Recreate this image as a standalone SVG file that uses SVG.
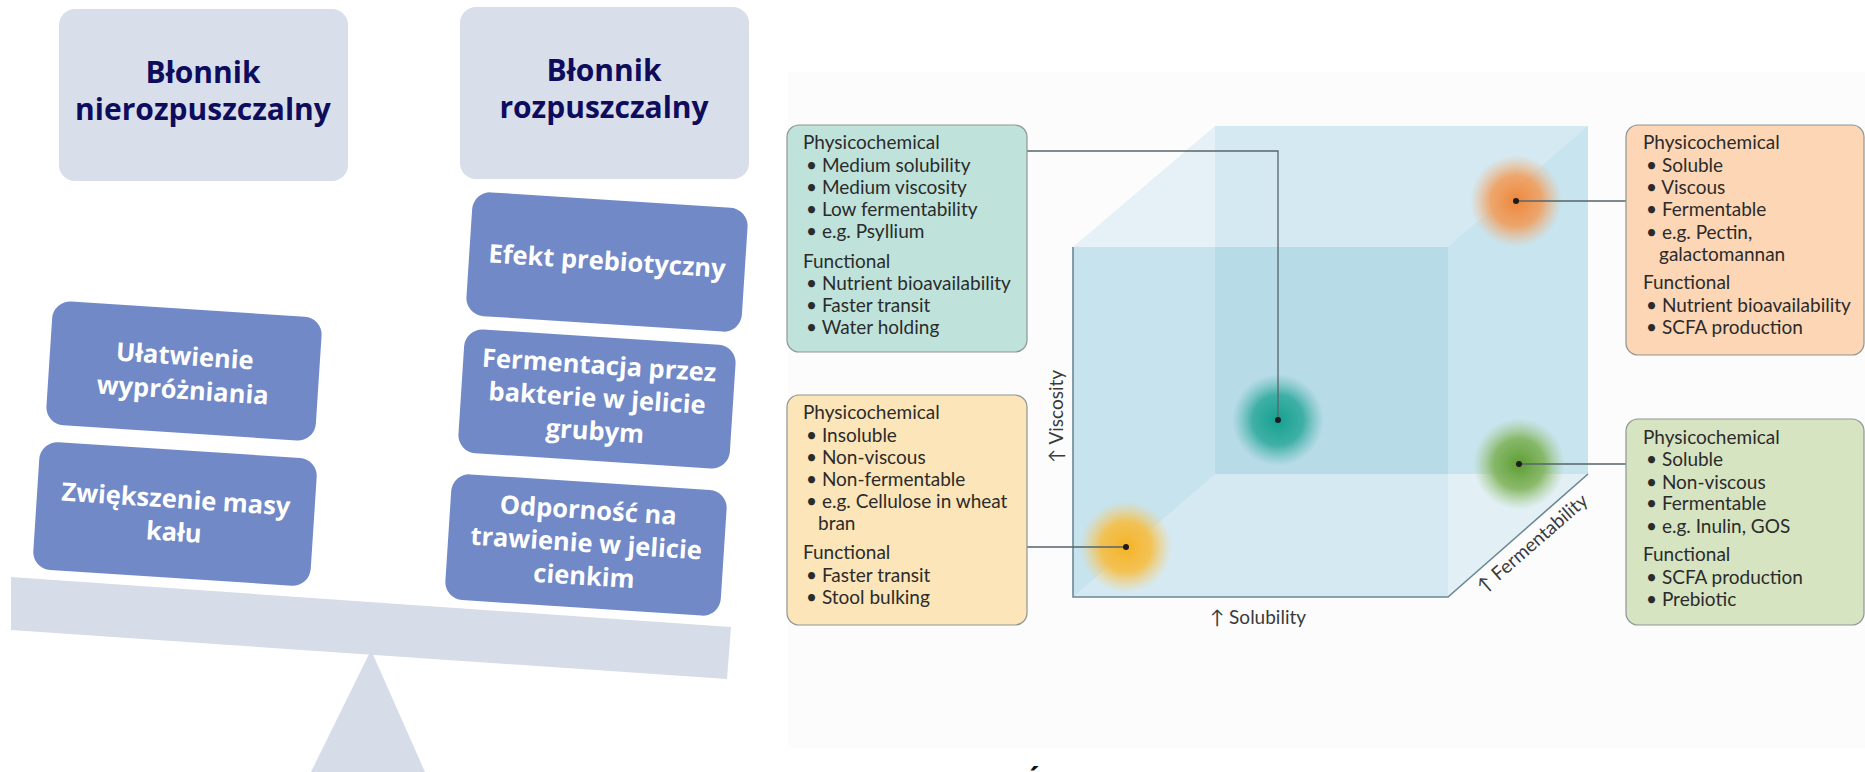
<svg xmlns="http://www.w3.org/2000/svg" width="1865" height="772" viewBox="0 0 1865 772">
  <defs>
    <style>
      .head { fill: #D9DEEB; }
      .title { font-family: "Open Sans", "Noto Sans", sans-serif; font-weight: 700; font-size: 30px; fill: #0E0C5C; text-anchor: middle; }
      .blue rect { fill: #7189C7; }
      .blue text { font-family: "Open Sans", "Noto Sans", sans-serif; font-weight: 700; font-size: 25.5px; fill: #FFFFFF; text-anchor: middle; }
      .scale { fill: #D7DCE9; }
      .card rect { stroke: #8E9694; stroke-width: 1.2; }
      .card text { font-family: Lato, "Noto Sans", sans-serif; font-size: 19px; fill: #2B2B2B; }
      .axis { stroke: #6B8795; stroke-width: 1.6; fill: none; }
      .axislabel { font-family: Lato, "Noto Sans", sans-serif; font-size: 19px; fill: #3A3A3A; }
      .link { stroke: #55656B; stroke-width: 1.3; fill: none; }
      .dot { fill: #1C1C1C; }
    </style>
    <radialGradient id="gTeal">
      <stop offset="0" stop-color="#13A08F" stop-opacity="1"/>
      <stop offset="0.55" stop-color="#2AA89A" stop-opacity="0.85"/>
      <stop offset="1" stop-color="#4DB5AA" stop-opacity="0"/>
    </radialGradient>
    <radialGradient id="gOrange">
      <stop offset="0" stop-color="#EE873A" stop-opacity="1"/>
      <stop offset="0.55" stop-color="#F29A55" stop-opacity="0.85"/>
      <stop offset="1" stop-color="#F5AE75" stop-opacity="0"/>
    </radialGradient>
    <radialGradient id="gGreen">
      <stop offset="0" stop-color="#5E9E33" stop-opacity="1"/>
      <stop offset="0.55" stop-color="#7BB052" stop-opacity="0.85"/>
      <stop offset="1" stop-color="#9CC47A" stop-opacity="0"/>
    </radialGradient>
    <radialGradient id="gYellow">
      <stop offset="0" stop-color="#F5B326" stop-opacity="1"/>
      <stop offset="0.55" stop-color="#F7BD40" stop-opacity="0.88"/>
      <stop offset="1" stop-color="#F9CC66" stop-opacity="0"/>
    </radialGradient>
  </defs>

  <rect width="1865" height="772" fill="#FFFFFF"/>

  <!-- Balance scale: fibre types and their effects -->
  <g id="head-insoluble">
    <rect class="head" x="59" y="9" width="289" height="172" rx="16"/>
    <text class="title" x="203" y="83">Błonnik</text>
    <text class="title" x="203" y="120">nierozpuszczalny</text>
  </g>
  <g id="head-soluble">
    <rect class="head" x="460" y="7" width="289" height="172" rx="16"/>
    <text class="title" x="604" y="81">Błonnik</text>
    <text class="title" x="604" y="118">rozpuszczalny</text>
  </g>

  <g id="pivot">
    <polygon class="scale" points="371,650 425,772 311,772"/>
  </g>
  <g id="beam">
    <polygon class="scale" points="11,577 731,627 727,679 11,630"/>
  </g>

  <g id="effect-defecation" class="blue" transform="translate(184,371) rotate(3.7)">
    <rect x="-135" y="-62" width="270" height="124" rx="18"/>
    <text x="0" y="-6">Ułatwienie</text>
    <text x="0" y="28">wypróżniania</text>
  </g>
  <g id="effect-stool-mass" class="blue" transform="translate(175,514) rotate(3.7)">
    <rect x="-139" y="-64" width="278" height="128" rx="18"/>
    <text x="0" y="-6">Zwiększenie masy</text>
    <text x="0" y="27">kału</text>
  </g>
  <g id="effect-prebiotic" class="blue" transform="translate(607,262) rotate(3.7)">
    <rect x="-138" y="-62" width="276" height="124" rx="18"/>
    <text x="0" y="8">Efekt prebiotyczny</text>
  </g>
  <g id="effect-fermentation" class="blue" transform="translate(597,399) rotate(3.7)">
    <rect x="-136" y="-62" width="272" height="124" rx="18"/>
    <text x="0" y="-25">Fermentacja przez</text>
    <text x="0" y="8">bakterie w jelicie</text>
    <text x="0" y="41">grubym</text>
  </g>
  <g id="effect-digestion" class="blue" transform="translate(586,545) rotate(3.7)">
    <rect x="-138" y="-63" width="276" height="126" rx="18"/>
    <text x="0" y="-26">Odporność na</text>
    <text x="0" y="7">trawienie w jelicie</text>
    <text x="0" y="40">cienkim</text>
  </g>

  <!-- Property cube -->
  <rect x="788" y="72" width="1077" height="676" fill="#FCFCFC"/>

  <g id="cube">
    <rect x="1215" y="126" width="373" height="348" fill="#D4E9F2"/>
    <polygon points="1073,247 1215,126 1215,247" fill="#E5F1F7"/>
    <polygon points="1448,247 1588,126 1588,474 1448,597" fill="#C8E4EF"/>
    <rect x="1073" y="247" width="375" height="350" fill="#C6E3EE"/>
    <rect x="1215" y="247" width="233" height="227" fill="#B8DBE8"/>
    <polygon points="1073,597 1448,597 1448,474 1215,474" fill="#D5E9F2"/>
    <polygon points="1448,597 1588,474 1448,474" fill="#E2F0F6"/>
    <path class="axis" d="M1073,247 V597 H1448 L1588,474"/>
    <text class="axislabel" transform="translate(1063,463) rotate(-90)">↑ Viscosity</text>
    <text class="axislabel" x="1210" y="624">↑ Solubility</text>
    <text class="axislabel" transform="translate(1484,594) rotate(-41)">↑ Fermentability</text>
  </g>

  <g id="blobs">
    <circle cx="1278" cy="420" r="46" fill="url(#gTeal)"/>
    <circle cx="1516" cy="201" r="46" fill="url(#gOrange)"/>
    <circle cx="1519" cy="464" r="46" fill="url(#gGreen)"/>
    <circle cx="1126" cy="547" r="46" fill="url(#gYellow)"/>
  </g>

  <g id="connectors">
    <path class="link" d="M1027,151 H1278 V420"/>
    <path class="link" d="M1516,201 H1626"/>
    <path class="link" d="M1519,464 H1626"/>
    <path class="link" d="M1027,547 H1126"/>
    <circle class="dot" cx="1278" cy="420" r="3"/>
    <circle class="dot" cx="1516" cy="201" r="3"/>
    <circle class="dot" cx="1519" cy="464" r="3"/>
    <circle class="dot" cx="1126" cy="547" r="3"/>
  </g>

  <g id="card-psyllium" class="card">
    <rect x="787" y="125" width="240" height="227" rx="12" fill="#BFE3DB"/>
    <text x="803" y="149">Physicochemical</text>
    <text x="806" y="172">• Medium solubility</text>
    <text x="806" y="194">• Medium viscosity</text>
    <text x="806" y="216">• Low fermentability</text>
    <text x="806" y="238">• e.g. Psyllium</text>
    <text x="803" y="268">Functional</text>
    <text x="806" y="290">• Nutrient bioavailability</text>
    <text x="806" y="312">• Faster transit</text>
    <text x="806" y="334">• Water holding</text>
  </g>

  <g id="card-cellulose" class="card">
    <rect x="787" y="395" width="240" height="230" rx="12" fill="#FCE5B8"/>
    <text x="803" y="419">Physicochemical</text>
    <text x="806" y="442">• Insoluble</text>
    <text x="806" y="464">• Non-viscous</text>
    <text x="806" y="486">• Non-fermentable</text>
    <text x="806" y="508">• e.g. Cellulose in wheat</text>
    <text x="818" y="530">bran</text>
    <text x="803" y="559">Functional</text>
    <text x="806" y="582">• Faster transit</text>
    <text x="806" y="604">• Stool bulking</text>
  </g>

  <g id="card-pectin" class="card">
    <rect x="1626" y="125" width="238" height="230" rx="12" fill="#FCD6B5"/>
    <text x="1643" y="149">Physicochemical</text>
    <text x="1646" y="172">• Soluble</text>
    <text x="1646" y="194">• Viscous</text>
    <text x="1646" y="216">• Fermentable</text>
    <text x="1646" y="239">• e.g. Pectin,</text>
    <text x="1659" y="261">galactomannan</text>
    <text x="1643" y="289">Functional</text>
    <text x="1646" y="312">• Nutrient bioavailability</text>
    <text x="1646" y="334">• SCFA production</text>
  </g>

  <g id="card-inulin" class="card">
    <rect x="1626" y="419" width="238" height="206" rx="12" fill="#D6E4C2"/>
    <text x="1643" y="444">Physicochemical</text>
    <text x="1646" y="466">• Soluble</text>
    <text x="1646" y="489">• Non-viscous</text>
    <text x="1646" y="510">• Fermentable</text>
    <text x="1646" y="533">• e.g. Inulin, GOS</text>
    <text x="1643" y="561">Functional</text>
    <text x="1646" y="584">• SCFA production</text>
    <text x="1646" y="606">• Prebiotic</text>
  </g>

  <text x="1024" y="793" font-family="Lato, 'Noto Sans', sans-serif" font-size="28" font-weight="700" fill="#111111">Źródło</text>
</svg>
